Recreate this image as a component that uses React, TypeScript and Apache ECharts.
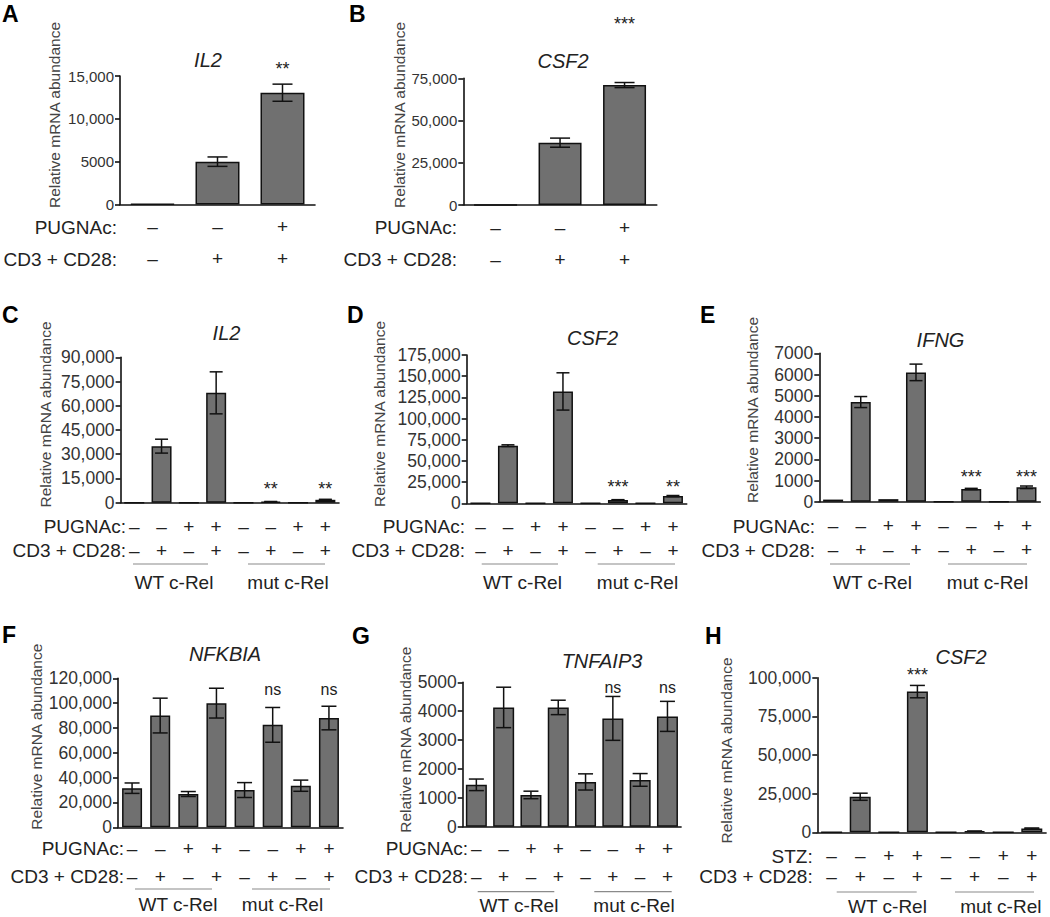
import React, { useEffect, useRef } from "react";
import * as echarts from "echarts";

// ---------- DATA ----------
const threeCats = ["c1", "c2", "c3"];
const eightCats = ["WT-1", "WT-2", "WT-3", "WT-4", "mut-1", "mut-2", "mut-3", "mut-4"];

const pugnac3 = ["–", "–", "+"];
const cd3_3 = ["–", "+", "+"];
const treat8 = ["–", "–", "+", "+", "–", "–", "+", "+"];
const cd3_8 = ["–", "+", "–", "+", "–", "+", "–", "+"];

// A: IL2
const aValues = [80, 5000, 13050];
const aErrors = [0, 550, 1000];
const aSig = ["", "", "**"];
const aSigLevel = 16250;
// B: CSF2
const bValues = [0, 36900, 71000];
const bErrors = [0, 2700, 1500];
const bSig = ["", "", "***"];
const bSigLevel = 109500;
// C: IL2
const cValues = [0, 35000, 0, 68000, 0, 600, 0, 1800];
const cErrors = [0, 4300, 0, 13000, 0, 150, 0, 300];
const cSig = ["", "", "", "", "", "**", "", "**"];
const cSigLevel = 10900;
// D: CSF2
const dValues = [0, 68000, 0, 132000, 0, 4000, 0, 8500];
const dErrors = [0, 1000, 0, 22000, 0, 300, 0, 700];
const dSig = ["", "", "", "", "", "***", "", "**"];
const dSigLevel = 23900;
// E: IFNG
const eValues = [100, 4700, 120, 6100, 0, 600, 0, 680];
const eErrors = [0, 260, 0, 390, 0, 30, 0, 60];
const eSig = ["", "", "", "", "", "***", "", "***"];
const eSigLevel = 1350;
// F: NFKBIA
const fValues = [31500, 90000, 26800, 100000, 30000, 82500, 33500, 88000];
const fErrors = [4200, 14000, 2000, 12000, 6000, 14000, 4500, 9500];
const fSig = ["", "", "", "", "", "ns", "", "ns"];
const fSigLevel = 109800;
// G: TNFAIP3
const gValues = [1450, 4130, 1100, 4130, 1550, 3750, 1620, 3820];
const gErrors = [200, 700, 130, 250, 280, 760, 220, 520];
const gSig = ["", "", "", "", "", "ns", "", "ns"];
const gSigLevel = 4800;
// H: CSF2 (STZ)
const hValues = [0, 23000, 0, 91000, 0, 700, 0, 2500];
const hErrors = [0, 2300, 0, 4000, 0, 100, 0, 300];
const hSig = ["", "", "", "***", "", "", "", ""];
const hSigLevel = 104500;

const yTitle = "Relative mRNA abundance";
const cd3Name = "CD3 + CD28:";

// ---------- LAYOUT / STYLE ----------
const FONT = 'Arial, "Liberation Sans", Helvetica, sans-serif';
const BAR = "#707070";
const INK = "#111";

type Layout = {
  left: number; top: number; width: number; height: number;
  tickFont: number; barWidth: number; capWidth: number;
  labelMargin: number; lineHeight: number; rowRight: number; rowY: number[];
  title: number[]; letterPos: number[]; yName: number[];
  groups?: { lineY: number; labelY: number; wt: number[]; mut: number[]; wtX: number; mutX: number };
};

type Panel = {
  letter: string; gene: string; cats: string[]; rowNames: string[]; rows: string[][];
  values: number[]; errors: number[]; sig: string[]; sigLevel: number;
  max: number; interval: number; layout: Layout;
};

const panels: Panel[] = [
  {
    letter: "A", gene: "IL2", cats: threeCats, rowNames: ["PUGNAc:", cd3Name], rows: [pugnac3, cd3_3],
    values: aValues, errors: aErrors, sig: aSig, sigLevel: aSigLevel, max: 15000, interval: 5000,
    layout: { left: 120, top: 76, width: 195, height: 128.5, tickFont: 15, barWidth: 44, capWidth: 20,
      labelMargin: 6.5, lineHeight: 31.7, rowRight: 117, rowY: [227.3, 259], title: [208, 60],
      letterPos: [2, 2], yName: [54, 115] },
  },
  {
    letter: "B", gene: "CSF2", cats: threeCats, rowNames: ["PUGNAc:", cd3Name], rows: [pugnac3, cd3_3],
    values: bValues, errors: bErrors, sig: bSig, sigLevel: bSigLevel, max: 75000, interval: 25000,
    layout: { left: 463.3, top: 78.3, width: 193.5, height: 126.7, tickFont: 15, barWidth: 43, capWidth: 20,
      labelMargin: 6.5, lineHeight: 31.7, rowRight: 457, rowY: [227.3, 259], title: [563, 61],
      letterPos: [349, 2], yName: [399, 115] },
  },
  {
    letter: "C", gene: "IL2", cats: eightCats, rowNames: ["PUGNAc:", cd3Name], rows: [treat8, cd3_8],
    values: cValues, errors: cErrors, sig: cSig, sigLevel: cSigLevel, max: 90000, interval: 15000,
    layout: { left: 120.6, top: 357.3, width: 218.4, height: 145.4, tickFont: 17.5, barWidth: 20, capWidth: 13,
      labelMargin: 11.3, lineHeight: 24, rowRight: 126, rowY: [526, 550], title: [226.5, 333],
      letterPos: [2, 303], yName: [45, 414.5],
      groups: { lineY: 564, labelY: 582, wt: [133, 208], mut: [248, 325], wtX: 174, mutX: 288 } },
  },
  {
    letter: "D", gene: "CSF2", cats: eightCats, rowNames: ["PUGNAc:", cd3Name], rows: [treat8, cd3_8],
    values: dValues, errors: dErrors, sig: dSig, sigLevel: dSigLevel, max: 175000, interval: 25000,
    layout: { left: 466.7, top: 355, width: 220, height: 148.3, tickFont: 17.5, barWidth: 20, capWidth: 13,
      labelMargin: 10.7, lineHeight: 24, rowRight: 465, rowY: [526, 550], title: [592.5, 338],
      letterPos: [347, 303], yName: [379, 414],
      groups: { lineY: 564, labelY: 582, wt: [481.7, 558], mut: [597.7, 675], wtX: 522.5, mutX: 637.5 } },
  },
  {
    letter: "E", gene: "IFNG", cats: eightCats, rowNames: ["PUGNAc:", cd3Name], rows: [treat8, cd3_8],
    values: eValues, errors: eErrors, sig: eSig, sigLevel: eSigLevel, max: 7000, interval: 1000,
    layout: { left: 819.3, top: 353.3, width: 221, height: 148.4, tickFont: 17.5, barWidth: 20, capWidth: 13,
      labelMargin: 11.5, lineHeight: 24.5, rowRight: 815, rowY: [526, 550], title: [940.5, 340],
      letterPos: [700, 303], yName: [752.7, 410],
      groups: { lineY: 564, labelY: 582, wt: [830, 910], mut: [948, 1027], wtX: 872.5, mutX: 987.5 } },
  },
  {
    letter: "F", gene: "NFKBIA", cats: eightCats, rowNames: ["PUGNAc:", cd3Name], rows: [treat8, cd3_8],
    values: fValues, errors: fErrors, sig: fSig, sigLevel: fSigLevel, max: 120000, interval: 20000,
    layout: { left: 118, top: 678.3, width: 225, height: 149, tickFont: 17.5, barWidth: 20, capWidth: 15,
      labelMargin: 6.8, lineHeight: 28.4, rowRight: 124, rowY: [848.5, 876.7], title: [225, 654],
      letterPos: [2, 623], yName: [36.7, 736.7],
      groups: { lineY: 889, labelY: 904, wt: [135, 212], mut: [252, 330], wtX: 178, mutX: 282.5 } },
  },
  {
    letter: "G", gene: "TNFAIP3", cats: eightCats, rowNames: ["PUGNAc:", cd3Name], rows: [treat8, cd3_8],
    values: gValues, errors: gErrors, sig: gSig, sigLevel: gSigLevel, max: 5000, interval: 1000,
    layout: { left: 462.7, top: 682.3, width: 218.4, height: 144.4, tickFont: 17.5, barWidth: 21, capWidth: 15,
      labelMargin: 7.4, lineHeight: 28.4, rowRight: 468, rowY: [848.5, 876.7], title: [602, 661],
      letterPos: [352, 624], yName: [405, 739.7],
      groups: { lineY: 891.7, labelY: 905.5, wt: [477.7, 554.3], mut: [594.3, 671.7], wtX: 519, mutX: 634 } },
  },
  {
    letter: "H", gene: "CSF2", cats: eightCats, rowNames: ["STZ:", cd3Name], rows: [treat8, cd3_8],
    values: hValues, errors: hErrors, sig: hSig, sigLevel: hSigLevel, max: 100000, interval: 25000,
    layout: { left: 817.3, top: 677.7, width: 228.8, height: 154.6, tickFont: 17.5, barWidth: 21, capWidth: 15,
      labelMargin: 13.3, lineHeight: 20.7, rowRight: 812.7, rowY: [856, 876.7], title: [961, 656.7],
      letterPos: [705, 624], yName: [726.7, 750.5],
      groups: { lineY: 892, labelY: 906, wt: [836.7, 916.7], mut: [955, 1034], wtX: 887.5, mutX: 1000.8 } },
  },
];

const fmtTick = (v: number) => (v >= 10000 ? v.toLocaleString("en-US") : String(v));

function buildOption() {
  const grid: any[] = [];
  const xAxis: any[] = [];
  const yAxis: any[] = [];
  const series: any[] = [];
  const graphic: any[] = [];

  panels.forEach((p, k) => {
    const L = p.layout;
    grid.push({ left: L.left, top: L.top, width: L.width, height: L.height, containLabel: false });
    xAxis.push({
      type: "category", gridIndex: k, data: p.cats, boundaryGap: true,
      axisLine: { lineStyle: { color: INK, width: 1.6 } },
      axisTick: { alignWithLabel: true, length: 5, lineStyle: { color: INK, width: 1.6 } },
      axisLabel: {
        interval: 0, margin: L.labelMargin, fontSize: 19, lineHeight: L.lineHeight,
        color: "#222", fontFamily: FONT,
        formatter: (_v: string, i: number) => `${p.rows[0][i]}\n${p.rows[1][i]}`,
      },
      splitLine: { show: false },
    });
    yAxis.push({
      type: "value", gridIndex: k, min: 0, max: p.max, interval: p.interval,
      axisLine: { show: true, lineStyle: { color: INK, width: 1.6 } },
      axisTick: { show: true, length: 5, lineStyle: { color: INK, width: 1.6 } },
      axisLabel: { fontSize: L.tickFont, color: "#333", fontFamily: FONT, margin: 6, formatter: fmtTick },
      splitLine: { show: false },
    });
    series.push({
      type: "bar", xAxisIndex: k, yAxisIndex: k, data: p.values, barWidth: L.barWidth,
      itemStyle: { color: BAR, borderColor: INK, borderWidth: 1.5 },
      silent: true,
    });
    series.push({
      type: "custom", xAxisIndex: k, yAxisIndex: k, clip: false, silent: true, z: 5,
      data: p.values.map((v, i) => [i, v, p.errors[i]]),
      renderItem: (_params: any, api: any) => {
        const x = api.value(0);
        const v = api.value(1);
        const e = api.value(2);
        if (!e) return null;
        const t = api.coord([x, v + e]);
        const b = api.coord([x, Math.max(0, v - e)]);
        const hw = L.capWidth / 2;
        const st = { stroke: INK, lineWidth: 1.5 };
        return {
          type: "group",
          children: [
            { type: "line", shape: { x1: t[0], y1: t[1], x2: b[0], y2: b[1] }, style: st },
            { type: "line", shape: { x1: t[0] - hw, y1: t[1], x2: t[0] + hw, y2: t[1] }, style: st },
            { type: "line", shape: { x1: b[0] - hw, y1: b[1], x2: b[0] + hw, y2: b[1] }, style: st },
          ],
        };
      },
    });
    series.push({
      type: "custom", xAxisIndex: k, yAxisIndex: k, clip: false, silent: true, z: 6,
      data: p.sig.map((_s, i) => [i, p.sigLevel]),
      renderItem: (params: any, api: any) => {
        const s = p.sig[params.dataIndex];
        if (!s) return null;
        const pt = api.coord([api.value(0), api.value(1)]);
        const isStar = s.indexOf("*") >= 0;
        return {
          type: "text",
          x: pt[0], y: pt[1] + (isStar ? 4 : -1),
          style: {
            text: s, fontSize: isStar ? 18 : 16, fontFamily: FONT, fill: "#222",
            textAlign: "center", textVerticalAlign: "middle",
          },
        };
      },
    });

    // panel letter
    graphic.push({
      type: "text", x: L.letterPos[0], y: L.letterPos[1],
      style: { text: p.letter, fontSize: 23, fontWeight: "bold", fontFamily: FONT, fill: "#000",
        textAlign: "left", textVerticalAlign: "top" },
    });
    // gene title
    graphic.push({
      type: "text", x: L.title[0], y: L.title[1],
      style: { text: p.gene, fontSize: 20, fontStyle: "italic", fontFamily: FONT, fill: "#222",
        textAlign: "center", textVerticalAlign: "middle" },
    });
    // y axis title
    graphic.push({
      type: "text", x: L.yName[0], y: L.yName[1], rotation: Math.PI / 2,
      style: { text: yTitle, fontSize: 15.5, fontFamily: FONT, fill: "#444",
        textAlign: "center", textVerticalAlign: "middle" },
    });
    // row labels
    p.rowNames.forEach((name, r) => {
      graphic.push({
        type: "text", x: L.rowRight, y: L.rowY[r],
        style: { text: name, fontSize: 19, fontFamily: FONT, fill: "#222",
          textAlign: "right", textVerticalAlign: "middle" },
      });
    });
    if (L.groups) {
      const G = L.groups;
      [[G.wt, G.wtX, "WT c-Rel"], [G.mut, G.mutX, "mut c-Rel"]].forEach((g: any) => {
        graphic.push({
          type: "line", shape: { x1: g[0][0], y1: G.lineY, x2: g[0][1], y2: G.lineY },
          style: { stroke: "#8a8a8a", lineWidth: 1.2 },
        });
        graphic.push({
          type: "text", x: g[1], y: G.labelY,
          style: { text: g[2], fontSize: 19, fontFamily: FONT, fill: "#222",
            textAlign: "center", textVerticalAlign: "middle" },
        });
      });
    }
  });

  return {
    animation: false,
    backgroundColor: "#ffffff",
    textStyle: { fontFamily: FONT },
    grid, xAxis, yAxis, series, graphic,
  };
}

export default function App() {
  const ref = useRef<HTMLDivElement>(null);
  useEffect(() => {
    if (!ref.current) return;
    const chart = echarts.init(ref.current, undefined, { renderer: "svg" });
    chart.setOption(buildOption() as any);
    return () => chart.dispose();
  }, []);
  return (
    <div
      ref={ref}
      style={{ position: "absolute", left: 0, top: 0, width: 1050, height: 917, background: "#fff" }}
    />
  );
}
